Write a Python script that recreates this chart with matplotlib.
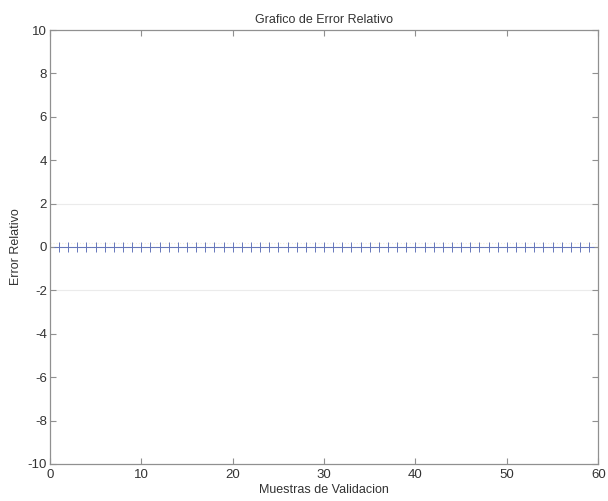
import numpy as np
import matplotlib
matplotlib.use("Agg")
import matplotlib.pyplot as plt

plt.rcParams['font.family'] = ['Liberation Sans', 'DejaVu Sans']
plt.rcParams['axes.unicode_minus'] = False

samples = list(range(1, 60))
rel_error = [0.0] * len(samples)
ref_lines = [2, -2]

fig = plt.figure(figsize=(6.08, 5.01), dpi=100)
ax = fig.add_axes([0.082, 0.074, 0.902, 0.866])

ax.axhline(0, color='#8a93b0', lw=0.8, zorder=1)
for r in ref_lines:
    ax.axhline(r, color='#ebebeb', lw=0.8, zorder=0)
ax.axhline(0.2, color='#f5efd8', lw=0.8, ls=':', zorder=0)
ax.plot(samples, rel_error, ls='none', marker='+', ms=6.5, mew=0.7, color='#6677bb', zorder=2)

ax.set_xlim(0, 60)
ax.set_ylim(-10, 10)
ax.set_xticks(range(0, 61, 10))
ax.set_yticks(range(-10, 11, 2))
ax.tick_params(direction='in', top=True, right=True, labelsize=9.5, length=4,
               color='#909090', width=0.8, labelcolor='#333333')
ax.tick_params(axis='x', pad=4)
ax.tick_params(axis='y', pad=2)
for s in ax.spines.values():
    s.set_color('#909090')
    s.set_linewidth(0.9)

ax.set_title('Grafico de Error Relativo', fontsize=9, pad=5, color='#333333')
ax.set_xlabel('Muestras de Validacion', fontsize=9, labelpad=2, color='#333333')
ax.set_ylabel('Error Relativo', fontsize=9, labelpad=4, color='#333333')

fig.savefig('out.png', dpi=100)
